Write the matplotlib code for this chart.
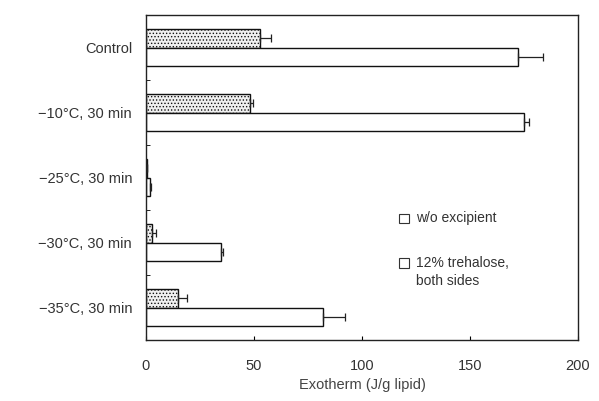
import numpy as np
import matplotlib.pyplot as plt
from matplotlib.patches import Rectangle

plt.rcParams['font.family'] = ['Liberation Sans', 'DejaVu Sans']
plt.rcParams['hatch.color'] = '#bdbdbd'
plt.rcParams['hatch.linewidth'] = 0.6

# Groups and measured exotherms
groups = ['Control', '\u221210\u00b0C, 30 min', '\u221225\u00b0C, 30 min',
          '\u221230\u00b0C, 30 min', '\u221235\u00b0C, 30 min']
treh_vals = [53, 48, 0.5, 3, 15]       # 12% trehalose, both sides
treh_err = [5, 1.5, 0, 1.5, 4]
plain_vals = [172, 175, 2, 34.5, 82]    # w/o excipient
plain_err = [12, 2.5, 0.5, 1, 10]
legend_labels = ['w/o excipient', '12% trehalose,\nboth sides']

fig = plt.figure(figsize=(5.99, 4.01), dpi=100)
ax = fig.add_axes([0.2437, 0.152, 0.7213, 0.8106])

y = np.arange(len(groups))
h = 0.29
ecfg = dict(elinewidth=0.9, capsize=3, capthick=0.9, ecolor='#222222')
zeros = np.zeros(len(groups))

# one-sided error bars (upper side only)
ax.barh(y - h / 2, treh_vals, height=h, xerr=[zeros, treh_err], facecolor='#f0f0f0',
        edgecolor='#111111', linewidth=1.0, hatch='.....', error_kw=ecfg)
ax.barh(y + h / 2, plain_vals, height=h, xerr=[zeros, plain_err], facecolor='white',
        edgecolor='#111111', linewidth=1.0, error_kw=ecfg)

ax.set_xlim(0, 200)
ax.set_ylim(4.5, -0.5)
ax.set_xticks([0, 50, 100, 150, 200])
ax.tick_params(axis='x', direction='in', length=3, pad=14, labelsize=10.5,
               labelcolor='#333333')
ax.set_yticks(y)
ax.set_yticklabels(groups)
ax.tick_params(axis='y', length=0, pad=10, labelsize=10.5, labelcolor='#333333')
ax.set_yticks([0.5, 1.5, 2.5, 3.5], minor=True)
ax.tick_params(axis='y', which='minor', direction='in', length=3)
ax.set_xlabel('Exotherm (J/g lipid)', fontsize=10.5, color='#444444', labelpad=3)

for s in ax.spines.values():
    s.set_linewidth(1.0)
    s.set_color('#222222')

# legend: small open squares next to the first line of each label
for ly, lab in zip([0.375, 0.237], legend_labels):
    ax.add_patch(Rectangle((0.586, ly - 0.016), 0.022, 0.03, transform=ax.transAxes,
                           facecolor='white', edgecolor='#333333', linewidth=0.8))
    for k, line in enumerate(lab.split('\n')):
        ax.text(0.625, ly - 0.054 * k, line, transform=ax.transAxes, fontsize=10,
                color='#333333', va='center')

fig.savefig('out.png', dpi=100)
